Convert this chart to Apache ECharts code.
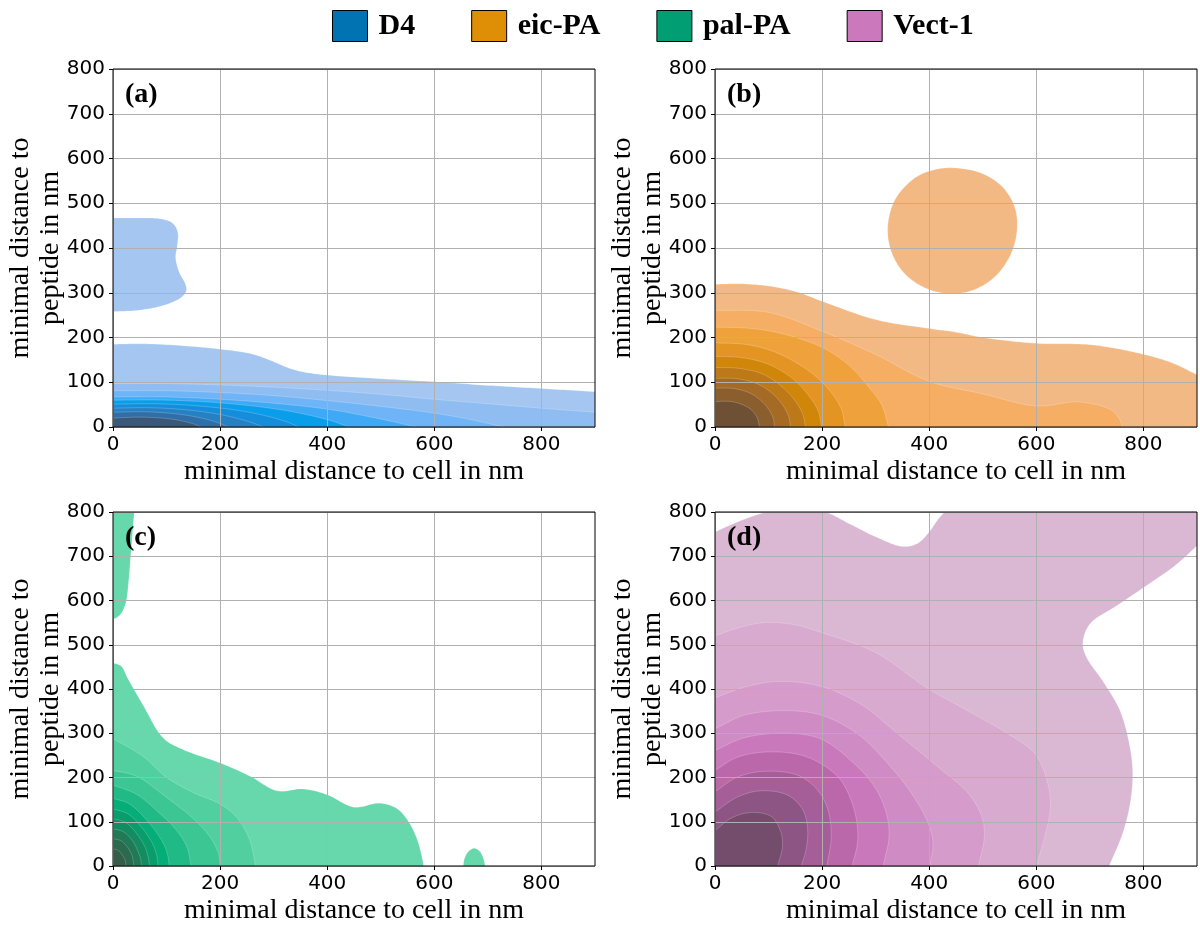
<!DOCTYPE html>
<html>
<head>
<meta charset="utf-8">
<script src="https://cdn.jsdelivr.net/npm/echarts@6/dist/echarts.min.js"></script>
<style>html,body{margin:0;padding:0;background:#fff;}#c{width:1200px;height:926px;}</style>
</head>
<body>
<div id="c"></div>
<script>
// ---------- tick labels ----------
const xTicks = [0, 200, 400, 600, 800];
const yTicks = [0, 100, 200, 300, 400, 500, 600, 700, 800];
const groups = ['D4', 'eic-PA', 'pal-PA', 'Vect-1'];
const panelTags = ['(a)', '(b)', '(c)', '(d)'];
const baseColors = ['#0173b2', '#de8f05', '#029e73', '#cc78bc'];

// ---------- contour outlines [x nm, y nm, (1 = straight edge into this point)] ----------
// (a) D4
const blueShapes = [
  [[0,185],[50,186],[100,184],[200,174],[260,163],[300,146],[330,131],[360,122],[400,116],[500,108],[600,101],[700,93],[800,86],[900,79],[900,0,1],[0,0,1]],
  [[0,467],[50,467],[90,465],[112,455],[121,435],[120,405],[117,378],[124,345],[135,320],[137,305],[128,290],[105,276],[75,266],[40,260],[0,258]],
  [[0,97],[100,97],[200,94],[300,89],[400,82],[500,73],[600,62],[700,52],[800,42],[900,33],[900,0,1],[0,0,1]],
  [[0,81],[100,81],[200,77],[300,70],[400,59],[500,46],[600,31],[670,16],[729,0],[0,0,1]],
  [[0,67],[100,67],[200,62],[300,53],[400,40],[470,25],[530,10],[565,0],[0,0,1]],
  [[0,60],[100,60],[200,54],[300,41],[360,28],[410,13],[440,0],[0,0,1]],
  [[0,51],[80,52],[160,47],[240,36],[295,22],[330,9],[347,0],[0,0,1]],
  [[0,42],[70,43],[140,38],[200,28],[245,15],[268,6],[280,0],[0,0,1]],
  [[0,33],[60,34],[120,29],[165,20],[195,10],[215,0],[0,0,1]],
  [[0,20],[50,22],[100,19],[135,12],[155,5],[164,0],[0,0,1]]
];
const blueLevel = [0,0,1,2,3,4,5,6,7,8];
const blueLoop = [];
const bluePalette = ['#a4c6f1','#8fbdf2','#6fb4f6','#3fa9f6','#099ee9','#168ddb','#2580c4','#2f6ea6','#3b5879'];

// (b) eic-PA
const orangeShapes = [
  [[0,319],[50,320],[100,315],[150,303],[200,281],[300,240],[400,220],[450,212],[500,200],[600,187],[700,184],[780,168],[850,145],[900,117],[900,0,1],[0,0,1]],
  [[448,579],[500,566],[538,535],[560,490],[564,440],[552,385],[522,335],[480,305],[435,298],[390,312],[350,348],[327,400],[323,455],[338,512],[375,558],[410,575]],
  [[0,261],[100,256],[200,214],[300,162],[400,102],[500,74],[600,47],[680,56],[740,38],[755,18],[761,0],[0,0,1]],
  [[0,223],[60,221],[120,210],[200,178],[250,138],[285,92],[311,50],[324,0],[0,0,1]],
  [[0,188],[60,184],[117,165],[180,121],[215,80],[236,40],[243,0],[0,0,1]],
  [[0,158],[50,155],[100,140],[145,108],[175,70],[193,35],[199,0],[0,0,1]],
  [[0,133],[45,131],[90,118],[125,90],[150,58],[164,28],[169,0],[0,0,1]],
  [[0,109],[40,108],[80,96],[108,74],[127,48],[138,22],[141,0],[0,0,1]],
  [[0,87],[35,86],[65,76],[87,58],[101,38],[109,18],[111,0],[0,0,1]],
  [[0,57],[30,57],[55,48],[70,36],[79,20],[83,0],[0,0,1]]
];
const orangeLevel = [0,0,1,2,3,4,5,6,7,8];
const orangeLoop = [1];
const orangePalette = ['#f3b985','#f5ae64','#efa23c','#e39422','#d08609','#bd7818','#a56a24','#8b5e2e','#6e5134'];

// (c) pal-PA
const greenShapes = [
  [[0,459],[15,452],[28,423],[56,364],[94,289],[131,263],[200,233],[256,203],[306,170],[356,174],[400,161],[450,133],[498,142],[530,130],[552,100],[568,60],[577,20],[580,0],[0,0,1]],
  [[0,558],[8,562],[16,572],[24,595],[29,640],[33,700],[37,760],[40,805],[0,805,1]],
  [[654,0],[656,16],[663,32],[674,40],[685,33],[692,16],[695,0]],
  [[0,288],[56,248],[100,200],[150,166],[200,140],[231,110],[253,66],[262,28],[266,0],[0,0,1]],
  [[0,216],[44,203],[100,155],[150,107],[181,66],[197,28],[200,0],[0,0,1]],
  [[0,183],[44,162],[88,118],[119,80],[138,43],[146,0],[0,0,1]],
  [[0,153],[31,140],[69,95],[94,51],[102,25],[105,0],[0,0,1]],
  [[0,129],[28,118],[55,85],[74,50],[82,22],[84,0],[0,0,1]],
  [[0,107],[24,98],[45,72],[60,42],[66,18],[68,0],[0,0,1]],
  [[0,84],[20,77],[37,56],[47,32],[52,14],[53,0],[0,0,1]],
  [[0,62],[15,57],[28,41],[36,22],[39,0],[0,0,1]],
  [[0,39],[10,35],[18,24],[23,12],[24,0],[0,0,1]]
];
const greenLevel = [0,0,0,1,2,3,4,5,6,7,8,9];
const greenLoop = [];
const greenPalette = ['#66d8ab','#52cf9f','#3bc693','#1fba85','#05ad78','#0a9d6c','#138c61','#207a57','#2b6a4f','#355d48'];

// (d) Vect-1
const pinkShapes = [
  [[0,755],[45,779],[95,799],[150,803],[205,800],[250,774],[300,744],[350,722],[378,729],[400,755],[415,781],[432,805],[905,805,1],[905,729,1],[857,677],[800,629],[750,588],[700,547],[687,506],[692,476],[729,409],[757,349],[775,267],[780,207],[775,140],[761,73],[736,0],[0,0,1]],
  [[0,520],[40,537],[91,550],[150,545],[198,528],[299,483],[399,400],[463,357],[548,298],[598,253],[623,179],[626,127],[616,67],[600,0],[0,0,1]],
  [[0,380],[55,404],[117,417],[198,406],[273,365],[342,298],[417,223],[473,164],[498,112],[503,67],[492,0],[0,0,1]],
  [[0,310],[55,341],[130,351],[198,341],[267,298],[323,231],[367,164],[398,97],[407,52],[401,0],[0,0,1]],
  [[0,261],[55,290],[136,300],[198,287],[254,238],[298,179],[320,119],[325,67],[314,0],[0,0,1]],
  [[0,216],[42,246],[105,258],[173,246],[230,201],[254,149],[265,97],[266,52],[256,0],[0,0,1]],
  [[0,168],[42,201],[92,214],[155,205],[192,171],[211,127],[217,67],[209,0],[0,0,1]],
  [[0,122],[42,156],[86,170],[136,160],[164,127],[173,82],[170,37],[161,0],[0,0,1]],
  [[0,80],[30,108],[67,121],[105,112],[122,80],[126,45],[117,0],[0,0,1]]
];
const pinkLevel = [0,1,2,3,4,5,6,7,8];
const pinkLoop = [];
const pinkPalette = ['#dab7d2','#d8aad0','#d59bca','#cf8bc3','#c978bb','#bb68ab','#a55e98','#8c5583','#744d6c'];

// ---------- spline helpers (rendering only) ----------
function crSeg(p0, p1, p2, p3, N, out) {
  const d = (a, b) => Math.max(Math.pow(Math.hypot(b[0]-a[0], b[1]-a[1]), 0.5), 1e-4);
  const t0 = 0, t1 = d(p0, p1), t2 = t1 + d(p1, p2), t3 = t2 + d(p2, p3);
  const L = (a, b, ta, tb, t) => [a[0]*(tb-t)/(tb-ta) + b[0]*(t-ta)/(tb-ta), a[1]*(tb-t)/(tb-ta) + b[1]*(t-ta)/(tb-ta)];
  for (let k = 1; k <= N; k++) {
    const t = t1 + (t2 - t1) * k / N;
    const A1 = L(p0, p1, t0, t1, t), A2 = L(p1, p2, t1, t2, t), A3 = L(p2, p3, t2, t3, t);
    const B1 = L(A1, A2, t0, t2, t), B2 = L(A2, A3, t1, t3, t);
    out.push(L(B1, B2, t1, t2, t));
  }
}
function trace(pts, loop) {
  const n = pts.length, out = [];
  const ex = (a, b) => [2*a[0]-b[0], 2*a[1]-b[1]];
  if (loop) {
    for (let i = 0; i < n; i++) crSeg(pts[(i-1+n)%n], pts[i], pts[(i+1)%n], pts[(i+2)%n], 14, out);
    return out;
  }
  out.push([pts[0][0], pts[0][1]]);
  for (let i = 0; i < n - 1; i++) {
    const a = pts[i], b = pts[i+1];
    if (b[2]) { out.push([b[0], b[1]]); continue; }
    const p0 = (i > 0 && !a[2]) ? pts[i-1] : ex(a, b);
    const p3 = (i + 2 < n && !pts[i+2][2]) ? pts[i+2] : ex(b, a);
    crSeg(p0, a, b, p3, 14, out);
  }
  return out;
}
function makeRender(shapes, levels, loops, palette) {
  return function (params, api) {
    const i = api.value(0);
    const pts = shapes[i].map(p => { const c = api.coord([p[0], p[1]]); return [c[0], c[1], p[2] === 1]; });
    return {
      type: 'polygon',
      shape: { points: trace(pts, loops.indexOf(i) >= 0) },
      style: { fill: palette[levels[i]], stroke: 'rgba(255,255,255,0.35)', lineWidth: 0.6 }
    };
  };
}

const panels = [
  [blueShapes, blueLevel, blueLoop, bluePalette],
  [orangeShapes, orangeLevel, orangeLoop, orangePalette],
  [greenShapes, greenLevel, greenLoop, greenPalette],
  [pinkShapes, pinkLevel, pinkLoop, pinkPalette]
];

const gridPos = [[113, 69], [715, 69], [113, 512], [715, 512]];
const serif = 'Liberation Serif';

const option = {
  animation: false,
  backgroundColor: '#fff',
  legend: {
    top: 5, left: 327, icon: 'rect', itemWidth: 35, itemHeight: 31, itemGap: 56,
    selectedMode: false,
    textStyle: { fontFamily: serif, fontWeight: 'bold', fontSize: 30, color: '#000', padding: [0, 0, 0, 6] },
    data: groups.map((g, k) => ({ name: g, itemStyle: { color: baseColors[k], borderColor: '#000', borderWidth: 1 } }))
  },
  grid: gridPos.map(p => ({ left: p[0], top: p[1], width: 482, height: 358, show: true, borderColor: '#000', borderWidth: 1, backgroundColor: 'transparent', z: 10 })),
  xAxis: gridPos.map((p, k) => ({
    gridIndex: k, type: 'value', min: 0, max: 900, interval: 200, z: 5,
    name: 'minimal distance to cell in nm', nameLocation: 'middle', nameGap: 31,
    nameTextStyle: { fontFamily: serif, fontSize: 28, color: '#000' },
    axisLine: { show: false },
    axisTick: { show: true, length: 4, customValues: xTicks, lineStyle: { color: '#000', width: 1 } },
    axisLabel: { customValues: xTicks, margin: 8, fontFamily: 'DejaVu Sans', fontSize: 20, color: '#000' },
    splitLine: { show: true, lineStyle: { color: '#b0b0b0', width: 1 } }
  })),
  yAxis: gridPos.map((p, k) => ({
    gridIndex: k, type: 'value', min: 0, max: 800, interval: 100, z: 5,
    name: 'minimal distance to\npeptide in nm', nameLocation: 'middle', nameGap: 47, nameRotate: 90,
    nameMoveOverlap: false,
    nameTextStyle: { fontFamily: serif, fontSize: 28, lineHeight: 30, color: '#000' },
    axisLine: { show: false },
    axisTick: { show: true, length: 4, lineStyle: { color: '#000', width: 1 } },
    axisLabel: { margin: 8, fontFamily: 'DejaVu Sans', fontSize: 20, color: '#000' },
    splitLine: { show: true, lineStyle: { color: '#b0b0b0', width: 1 } }
  })),
  series: panels.map((pd, k) => ({
    type: 'custom', name: groups[k], xAxisIndex: k, yAxisIndex: k, clip: true, z: 2,
    itemStyle: { color: baseColors[k] },
    renderItem: makeRender(pd[0], pd[1], pd[2], pd[3]),
    data: pd[0].map((_, i) => [i])
  })),
  graphic: gridPos.map((p, k) => ({
    type: 'text', left: p[0] + 12, top: p[1] + 12, z: 100,
    style: { text: panelTags[k], font: 'bold 28px "Liberation Serif"', fill: '#000' }
  }))
};

const chart = echarts.init(document.getElementById('c'), null, { renderer: 'canvas' });
chart.setOption(option);
</script>
</body>
</html>
